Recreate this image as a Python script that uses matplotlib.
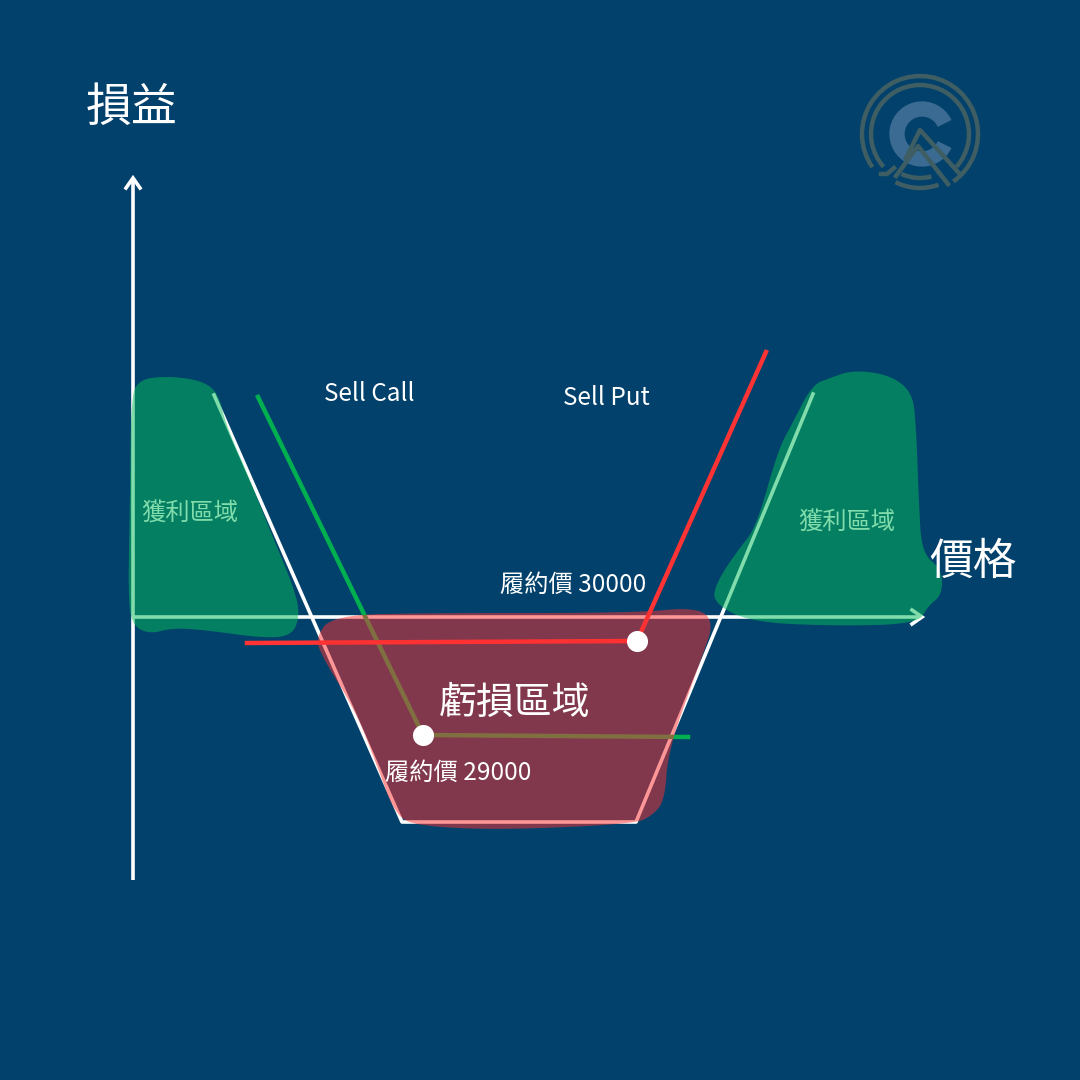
import numpy as np
import matplotlib
matplotlib.use("Agg")
import matplotlib.pyplot as plt
from matplotlib.patches import Polygon, Arc

plt.rcParams['font.family'] = ['Noto Sans CJK TC', 'DejaVu Sans']

# ---------------- data (diagram units: x = price position, y = P/L position, y grows downward) -------------
BG = '#02416B'

axis_y_x = [133, 133]
axis_y_y = [880, 180]
axis_x_x = [133, 920]
axis_x_y = [617, 617]

combo_x = [214, 402, 636, 813]
combo_y = [395, 822, 822, 394]

sell_call_x = [258, 423, 688]
sell_call_y = [397, 735, 737]

sell_put_x = [247, 637, 766]
sell_put_y = [643, 641, 352]

strike_dot_x = [423, 637]
strike_dot_y = [735, 641]

left_profit_blob_x = [138, 165, 200, 218, 226, 248, 272, 294, 300, 292, 262, 205, 172, 150, 133, 128, 130, 131]
left_profit_blob_y = [380, 376, 380, 392, 425, 475, 535, 588, 615, 636, 638, 630, 628, 634, 626, 600, 500, 400]

right_profit_blob_x = [812, 830, 853, 890, 912, 916, 919, 922, 942, 942, 928, 918, 833, 750, 713, 716, 738, 756, 778, 792]
right_profit_blob_y = [385, 378, 370, 375, 392, 423, 507, 553, 570, 595, 606, 624, 626, 622, 603, 583, 550, 528, 450, 424]

loss_blob_x = [315, 333, 433, 633, 697, 714, 702, 668, 665, 652, 633, 500, 417, 395, 375, 355, 324]
loss_blob_y = [638, 615, 613, 613, 607, 622, 657, 750, 800, 816, 824, 830, 826, 815, 760, 710, 660]

labels = {
    'ylab': ('損益', 132, 108, 33),
    'xlab': ('價格', 973, 562, 31.5),
    'call': ('Sell Call', 369, 394, 17.5),
    'put': ('Sell Put', 606, 398, 17.5),
    'k30000': ('履約價 30000', 573, 585, 17.5),
    'k29000': ('履約價 29000', 458, 773, 17.5),
    'loss': ('虧損區域', 515, 703, 27.3),
}
profit_labels = [('獲利區域', 190, 514, 17.5), ('獲利區域', 847, 523, 17.5)]


def smooth_closed(xs, ys, it=3):
    p = np.column_stack([xs, ys]).astype(float)
    for _ in range(it):
        q = np.roll(p, -1, axis=0)
        a = 0.75 * p + 0.25 * q
        b = 0.25 * p + 0.75 * q
        p = np.empty((2 * len(a), 2))
        p[0::2] = a
        p[1::2] = b
    return p


fig = plt.figure(figsize=(10.8, 10.8), dpi=100)
fig.patch.set_facecolor(BG)
ax = fig.add_axes([0, 0, 1, 1])
ax.set_facecolor(BG)
ax.set_xlim(0, 1080)
ax.set_ylim(1080, 0)
ax.axis('off')

# axes
ax.plot(axis_y_x, axis_y_y, color='white', lw=2.6, solid_capstyle='butt', zorder=2)
ax.plot(axis_x_x, axis_x_y, color='white', lw=2.6, solid_capstyle='butt', zorder=2)
ax.plot([axis_y_x[1] - 7, axis_y_x[1], axis_y_x[1] + 7], [axis_y_y[1] + 8, axis_y_y[1] - 2, axis_y_y[1] + 8],
        color='white', lw=2.6, zorder=2, solid_joinstyle='miter')
ax.plot([axis_x_x[1] - 8, axis_x_x[1] + 2, axis_x_x[1] - 8], [axis_x_y[1] - 7, axis_x_y[1], axis_x_y[1] + 7],
        color='white', lw=2.6, zorder=2, solid_joinstyle='miter')

# combined payoff
ax.plot(combo_x, combo_y, color='white', lw=2.6, zorder=3)
# sell call / sell put
ax.plot(sell_call_x, sell_call_y, color='#00B050', lw=3.2, zorder=3)
ax.plot(sell_put_x, sell_put_y, color='#FF3333', lw=3.2, zorder=3)

# profit labels (under the blobs -> tinted)
for t, x, y, s in profit_labels:
    ax.text(x, y, t, color='white', fontsize=s, ha='center', va='center', zorder=4)

# blobs
for bx, by, col in [(left_profit_blob_x, left_profit_blob_y, '#06BB5A'),
                    (right_profit_blob_x, right_profit_blob_y, '#06BB5A'),
                    (loss_blob_x, loss_blob_y, '#FD3131')]:
    pts = smooth_closed(bx, by)
    ax.add_patch(Polygon(pts, closed=True, facecolor=col, edgecolor='none', alpha=0.51, zorder=5))

# strike dots
ax.scatter(strike_dot_x, strike_dot_y, s=230, color='white', zorder=7, linewidths=0)

for key, (t, x, y, s) in labels.items():
    ax.text(x, y, t, color='white', fontsize=s, ha='center', va='center', zorder=8)

# logo (y axis inverted -> visual angle a corresponds to data angle -a)
cx, cy = 920, 134
ring = '#3F5E63'
blue = '#3B6B92'
ax.add_patch(Arc((cx, cy), 116, 116, theta1=-215, theta2=55, color=ring, lw=3.2, zorder=1))
ax.add_patch(Arc((cx, cy), 98, 98, theta1=-222, theta2=42, color=ring, lw=3.2, zorder=1))
ax.add_patch(Arc((cx, cy), 108, 108, theta1=70, theta2=117, color=ring, lw=3.2, zorder=1))
ax.add_patch(Arc((cx, cy), 88, 88, theta1=75, theta2=115, color=ring, lw=3.2, zorder=1))
ax.plot([cx - 39, cx - 33, cx - 26], [cy + 40, cy + 40, cy + 34], color=ring, lw=3.2, zorder=1)
ax.add_patch(Arc((cx + 2, cy), 50, 50, theta1=25, theta2=335, color=blue, lw=11, zorder=1))
ax.plot([cx - 14, cx, cx + 38], [cy + 24, cy - 4, cy + 38], color=ring, lw=3.2, zorder=1)
ax.plot([cx - 24, cx - 2, cx + 28], [cy + 42, cy + 12, cy + 50], color=ring, lw=3.2, zorder=1)

fig.savefig('out.png', dpi=100, facecolor=BG)
